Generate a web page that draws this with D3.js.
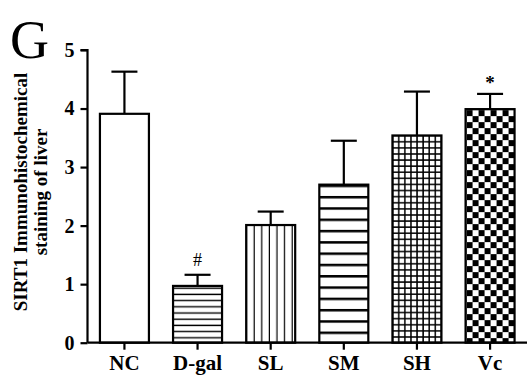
<!DOCTYPE html>
<html><head><meta charset="utf-8">
<script src="https://cdn.jsdelivr.net/npm/d3@7"></script>
<style>body{margin:0;background:#fff}svg{display:block}</style>
</head><body>
<script>
const categories = ["NC", "D-gal", "SL", "SM", "SH", "Vc"];
const means = [3.91, 0.97, 2.01, 2.70, 3.54, 3.99];
const errors = [0.72, 0.19, 0.23, 0.75, 0.75, 0.26];
const marks = ["", "#", "", "", "", "*"];
const yTicks = [0, 1, 2, 3, 4, 5];
const patterns = ["none", "hlines", "vlines", "thicklines", "grid", "checker"];

const W = 527, H = 379;
const svg = d3.select("body").append("svg").attr("width", W).attr("height", H);
const font = "'Liberation Serif', 'Times New Roman', serif";

const x = d3.scaleBand().domain(categories).range([87.5, 527]).paddingInner(0.33).paddingOuter(0.17);
const y = d3.scaleLinear().domain([0, 5]).range([342.7, 50]);

const defs = svg.append("defs");
let p = defs.append("pattern").attr("id", "hlines").attr("patternUnits", "userSpaceOnUse").attr("width", 10).attr("height", 6.2);
p.append("rect").attr("width", 10).attr("height", 6.2).attr("fill", "#fff");
p.append("line").attr("x1", 0).attr("x2", 10).attr("y1", 3).attr("y2", 3).attr("stroke", "#000").attr("stroke-width", 1.4);
p = defs.append("pattern").attr("id", "vlines").attr("patternUnits", "userSpaceOnUse").attr("width", 7.6).attr("height", 10).attr("x", x("SL") + 1);
p.append("rect").attr("width", 7.6).attr("height", 10).attr("fill", "#fff");
p.append("line").attr("y1", 0).attr("y2", 10).attr("x1", 7.6).attr("x2", 7.6).attr("stroke", "#000").attr("stroke-width", 2.4);
p = defs.append("pattern").attr("id", "thicklines").attr("patternUnits", "userSpaceOnUse").attr("width", 10).attr("height", 11.3).attr("y", y(means[3]));
p.append("rect").attr("width", 10).attr("height", 11.3).attr("fill", "#fff");
p.append("line").attr("x1", 0).attr("x2", 10).attr("y1", 0).attr("y2", 0).attr("stroke", "#000").attr("stroke-width", 5);
p = defs.append("pattern").attr("id", "grid").attr("patternUnits", "userSpaceOnUse").attr("width", 6.1).attr("height", 6.1).attr("x", x("SH") + 1).attr("y", y(means[4]) + 1);
p.append("rect").attr("width", 6.1).attr("height", 6.1).attr("fill", "#fff");
p.append("line").attr("x1", 0).attr("x2", 6.1).attr("y1", 5.3).attr("y2", 5.3).attr("stroke", "#000").attr("stroke-width", 1.5);
p.append("line").attr("y1", 0).attr("y2", 6.1).attr("x1", 5.3).attr("x2", 5.3).attr("stroke", "#000").attr("stroke-width", 1.5);
p = defs.append("pattern").attr("id", "checker").attr("patternUnits", "userSpaceOnUse").attr("width", 12).attr("height", 12).attr("x", x("Vc") + 1).attr("y", y(means[5]) + 1);
p.append("rect").attr("width", 12).attr("height", 12).attr("fill", "#fff");
p.append("rect").attr("x", 0).attr("y", 0).attr("width", 6).attr("height", 6).attr("fill", "#000");
p.append("rect").attr("x", 6).attr("y", 6).attr("width", 6).attr("height", 6).attr("fill", "#000");

const g = svg.append("g");
categories.forEach((c, i) => {
  const cx = x(c) + x.bandwidth() / 2;
  g.append("line").attr("x1", cx).attr("x2", cx).attr("y1", y(means[i])).attr("y2", y(means[i] + errors[i]))
    .attr("stroke", "#000").attr("stroke-width", 2.2);
  g.append("line").attr("x1", cx - 13).attr("x2", cx + 13).attr("y1", y(means[i] + errors[i])).attr("y2", y(means[i] + errors[i]))
    .attr("stroke", "#000").attr("stroke-width", 2.2);
  g.append("rect").attr("x", x(c)).attr("y", y(means[i])).attr("width", x.bandwidth()).attr("height", y(0) - y(means[i]))
    .attr("fill", patterns[i] === "none" ? "#fff" : `url(#${patterns[i]})`)
    .attr("stroke", "#000").attr("stroke-width", 2.2);
  if (marks[i]) {
    g.append("text").attr("x", cx).attr("y", y(means[i] + errors[i]) - (marks[i] === "#" ? 9 : 5))
      .attr("text-anchor", "middle").attr("font-family", font).attr("font-size", marks[i] === "#" ? 18 : 19)
      .attr("font-weight", marks[i] === "#" ? "normal" : "bold")
      .text(marks[i]);
  }
});

const ya = svg.append("g").attr("transform", "translate(87.5,0)")
  .call(d3.axisLeft(y).tickValues(yTicks).tickFormat(d3.format("d")).tickSize(7).tickPadding(6));
ya.select(".domain").attr("stroke-width", 2.2).attr("d", `M-7,${y(5)}H0V${y(0)}`);
ya.selectAll(".tick line").attr("stroke-width", 2.2);
ya.selectAll(".tick text").attr("font-family", font).attr("font-weight", "bold").attr("font-size", 20).attr("fill", "#000");

const xa = svg.append("g").attr("transform", `translate(0,${y(0)})`)
  .call(d3.axisBottom(x).tickSize(7).tickPadding(5));
xa.select(".domain").attr("stroke-width", 2.2).attr("d", `M87.5,0H527`);
xa.selectAll(".tick line").attr("stroke-width", 2.2);
xa.selectAll(".tick text").attr("font-family", font).attr("font-weight", "bold").attr("font-size", 21).attr("fill", "#000");

const yt = svg.append("text").attr("transform", "translate(27,192) rotate(-90)")
  .attr("text-anchor", "middle").attr("font-family", font).attr("font-weight", "bold").attr("font-size", 19);
yt.append("tspan").attr("x", 0).attr("dy", 0).text("SIRT1 Immunohistochemical");
yt.append("tspan").attr("x", 0).attr("dy", 19.5).text("staining of liver");

svg.append("text").attr("x", 10).attr("y", 58).attr("font-family", font).attr("font-size", 54).text("G");
</script>
</body></html>
